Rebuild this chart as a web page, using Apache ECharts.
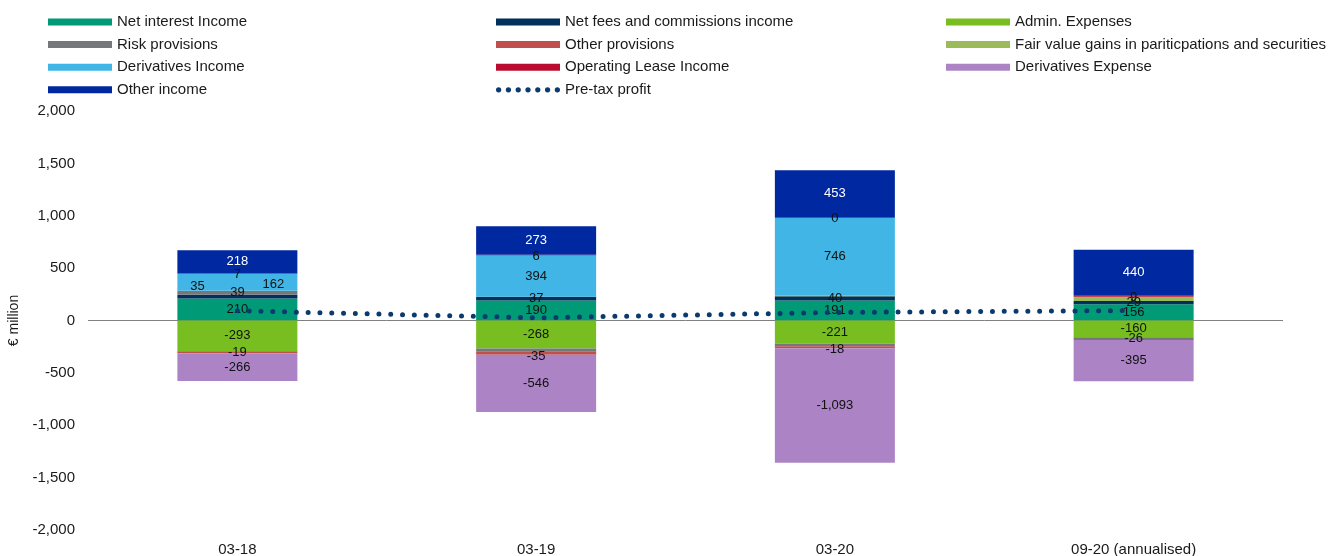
<!DOCTYPE html>
<html>
<head>
<meta charset="utf-8">
<script src="https://cdn.jsdelivr.net/npm/echarts@6/dist/echarts.min.js"></script>
<style>
  html, body { margin: 0; padding: 0; background: #ffffff; }
  #chart { width: 1333px; height: 556px; }
</style>
</head>
<body>
<div id="chart"></div>
<script>
// Categories and component values (€ million)
const categories = ['03-18', '03-19', '03-20', '09-20 (annualised)'];
const netInterest   = [210, 190, 191, 156];
const netFees       = [35, 37, 40, 29];
const adminExp      = [-293, -268, -221, -160];
const riskProv      = [39, -25, -26, -26];
const otherProv     = [-19, -35, -18, null];
const fairValue     = [null, null, 5, 42];
const derivIncome   = [162, 394, 746, null];
const opLease       = [7, 6, 0, 9];
const derivExpense  = [-266, -546, -1093, -395];
const otherIncome   = [218, 273, 453, 440];
const preTaxProfit  = [93, 26, 77, 95];
const yTicks = { min: -2000, max: 2000, step: 500 };

const FONT = "'Liberation Sans', Arial, sans-serif";
const TEXT = '#1a1a1a';

// Stacked component series, in stacking/legend order
const parts = [
  { name: 'Net interest Income', data: netInterest, color: '#009A77' },
  { name: 'Net fees and commissions income', data: netFees, color: '#00305E' },
  { name: 'Admin. Expenses', data: adminExp, color: '#78BE20' },
  { name: 'Risk provisions', data: riskProv, color: '#75787B' },
  { name: 'Other provisions', data: otherProv, color: '#C0504D' },
  { name: 'Fair value gains in pariticpations and securities', data: fairValue, color: '#9BBB59' },
  { name: 'Derivatives Income', data: derivIncome, color: '#41B6E6' },
  { name: 'Operating Lease Income', data: opLease, color: '#BA0C2F' },
  { name: 'Derivatives Expense', data: derivExpense, color: '#AC84C6' },
  { name: 'Other income', data: otherIncome, color: '#0028A0', labelColor: '#ffffff' }
];

// Per-point label tweaks: hidden labels and nudged positions
const labelTweaks = {
  'Net fees and commissions income': { 0: { offset: [-40, -10] } },
  'Risk provisions': { 1: { show: false }, 2: { show: false } },
  'Other provisions': { 1: { offset: [0, 3] }, 2: { offset: [0, 2] } },
  'Fair value gains in pariticpations and securities': { all: { show: false } },
  'Derivatives Income': { 0: { offset: [36, 2] } },
  'Operating Lease Income': { all: { offset: [0, 1] } }
};

const fmt = v => {
  const n = Math.abs(v);
  const s = n.toString().replace(/\B(?=(\d{3})+(?!\d))/g, ',');
  return (v < 0 ? '-' : '') + s;
};

const barSeries = parts.map((p, si) => {
  const tweaks = labelTweaks[p.name] || {};
  return {
    name: p.name,
    type: 'bar',
    stack: 'total',
    barWidth: 120,
    z: 2,
    itemStyle: { color: p.color },
    label: {
      show: true,
      position: 'inside',
      color: p.labelColor || '#111111',
      fontFamily: FONT,
      fontSize: 13,
      formatter: prm => fmt(prm.value)
    },
    data: p.data.map((v, i) => {
      const t = Object.assign({}, tweaks.all || {}, tweaks[i] || {});
      return Object.keys(t).length ? { value: v, label: t } : v;
    }),
    markLine: si === 0 ? {
      silent: true,
      symbol: 'none',
      z: 1,
      label: { show: false },
      lineStyle: { color: '#808080', width: 1, type: 'solid' },
      data: [{ yAxis: 0 }]
    } : undefined
  };
});

const LINE_COLOR = '#0B3A6E';
const lineSeries = {
  name: 'Pre-tax profit',
  type: 'line',
  z: 5,
  symbol: 'none',
  data: preTaxProfit,
  lineStyle: { color: LINE_COLOR, width: 5, type: [0, 11.8], cap: 'round' },
  itemStyle: { color: LINE_COLOR }
};

// Legend key for the dotted line: a row of seven dots
const dotRow = (() => {
  const r = 2.6;
  let d = '';
  for (let k = 0; k < 7; k++) {
    const cx = 3 + k * 9.67;
    d += `M${(cx - r).toFixed(2)},3a${r},${r} 0 1,0 ${2 * r},0a${r},${r} 0 1,0 ${-2 * r},0Z`;
  }
  return 'path://' + d;
})();

const legendBase = {
  orient: 'vertical',
  top: 9,
  icon: 'rect',
  itemWidth: 64,
  itemHeight: 7,
  itemGap: 6.6,
  textStyle: { fontFamily: FONT, fontSize: 15, color: TEXT, lineHeight: 16 },
  selectedMode: false
};
const names = parts.map(p => p.name).concat(['Pre-tax profit']);
const column = c => names
  .filter((_, i) => i % 3 === c)
  .map(n => n === 'Pre-tax profit' ? { name: n, icon: dotRow } : { name: n });

const chart = echarts.init(document.getElementById('chart'), null, { renderer: 'canvas' });
chart.setOption({
  animation: false,
  backgroundColor: '#ffffff',
  textStyle: { fontFamily: FONT },
  legend: [
    Object.assign({}, legendBase, { left: 43, data: column(0) }),
    Object.assign({}, legendBase, { left: 491, data: column(1) }),
    Object.assign({}, legendBase, { left: 941, data: column(2) })
  ],
  grid: { left: 88, right: 50, top: 111, bottom: 26, containLabel: false, outerBoundsMode: 'none' },
  xAxis: {
    type: 'category',
    data: categories,
    axisLine: { show: false },
    axisTick: { show: false },
    axisLabel: { color: TEXT, fontFamily: FONT, fontSize: 15, margin: 12 }
  },
  yAxis: {
    type: 'value',
    min: yTicks.min,
    max: yTicks.max,
    interval: yTicks.step,
    name: '€ million',
    nameLocation: 'middle',
    nameRotate: 90,
    nameGap: 63,
    nameTextStyle: { color: TEXT, fontFamily: FONT, fontSize: 14 },
    axisLine: { show: false },
    axisTick: { show: false },
    splitLine: { show: false },
    axisLabel: { color: TEXT, fontFamily: FONT, fontSize: 15, margin: 13, formatter: v => fmt(v) }
  },
  series: barSeries.concat([lineSeries])
});
</script>
</body>
</html>
